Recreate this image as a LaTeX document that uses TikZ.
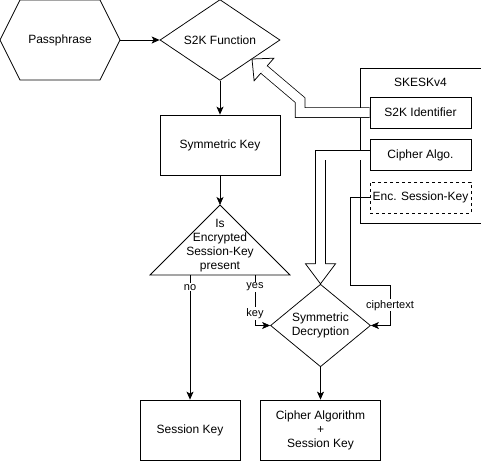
\documentclass[tikz,border=0pt]{standalone}
\usepackage{fontspec}
\setmainfont{Liberation Sans}
\usetikzlibrary{shapes.geometric,arrows.meta,calc}

\newcommand{\flexhead}[2]{%
  \draw[fill=white,line join=miter] ($(#2)!4.875pt!90:(#1)$) -- ($(#2)!15pt!90:(#1)$) -- (#1)
    -- ($(#2)!15pt!-90:(#1)$) -- ($(#2)!4.875pt!-90:(#1)$);}

\begin{document}
\begin{tikzpicture}[x=1pt,y=-1pt,line width=0.75pt,
    every node/.style={font=\fontsize{12}{14}\selectfont,align=center,inner sep=0pt},
    box/.style={draw,minimum width=120,minimum height=60},
    field/.style={draw,minimum width=101,minimum height=31},
    dia/.style={draw,diamond,minimum height=80},
    lbl/.style={font=\fontsize{11}{13}\selectfont,fill=white,inner sep=1pt},
    arr/.style={-{Stealth[length=8pt,width=7pt,inset=2pt]}},
    flex/.style={double distance=9pt,line join=miter}]
		\useasboundingbox (0,0) rectangle (481,461);

		% left column
		\node[minimum width=120,minimum height=80] (pass) at (60,40) {Passphrase};
		\draw (0,40) -- (20,0) -- (100,0) -- (120,40) -- (100,80) -- (20,80) -- cycle;
		\node[dia,minimum width=120] (s2k) at (220,40) {S2K Function};
		\node[box] (symkey) at (220,145) {Symmetric Key};

		\coordinate (apex) at (220,205);
		\coordinate (no) at (190,275);
		\coordinate (yes) at (255,275);
		\draw (apex) -- (290,275) -- (150,275) -- cycle;
		\node (present) at (220,246) {Is\\Encrypted\\Session-Key\\present};

		\node[dia,minimum width=100] (dec) at (320.5,325.5) {Symmetric\\Decryption};
		\node[box,minimum width=100] (sesskey) at (190,430) {Session Key};
		\node[box] (cipherkey) at (320.5,430) {Cipher Algorithm\\+\\Session Key};

		% packet
		\node[draw,minimum width=121,minimum height=155,anchor=north west] (skesk) at (360,68) {};
		\node (title) at (420.5,82) {SKESKv4};
		\node[field] (s2kid) at (420.5,112.5) {S2K Identifier};
		\node[field] (cipher) at (420.5,155) {Cipher Algo.};
		\node[field,dashed] (encsk) at (420.5,197.5) {Enc. Session-Key};

		% connectors
		\draw[arr] (pass) -- (s2k);
		\draw[arr] (s2k) -- (symkey);
		\draw[arr] (symkey) -- (apex);
		\draw[arr] (no) -- node[lbl,pos=0.1]{no} (sesskey);
		\draw[arr] (yes) |- node[lbl,pos=0.12]{yes} node[lbl,pos=0.38]{key} (dec);
		\draw[arr] (encsk.west) -| (350,285) -- (390,285) -- node[lbl]{ciphertext} (390,325.5) -- (dec.east);
		\draw[arr] (dec) -- (cipherkey);

		% fat arrows
		\coordinate (s2ktip) at (252,59);
		\coordinate (s2kbase) at (264,69.5);
		\draw[flex] (s2kid.west) -- (300,112.5) -- (300,100) -- (s2kbase);
		\flexhead{s2ktip}{s2kbase}
		\coordinate (decbase) at ([yshift=20pt]dec.north);
		\draw[flex] (cipher.west) -| (decbase);
		\flexhead{dec.north}{decbase}
\end{tikzpicture}
\end{document}
